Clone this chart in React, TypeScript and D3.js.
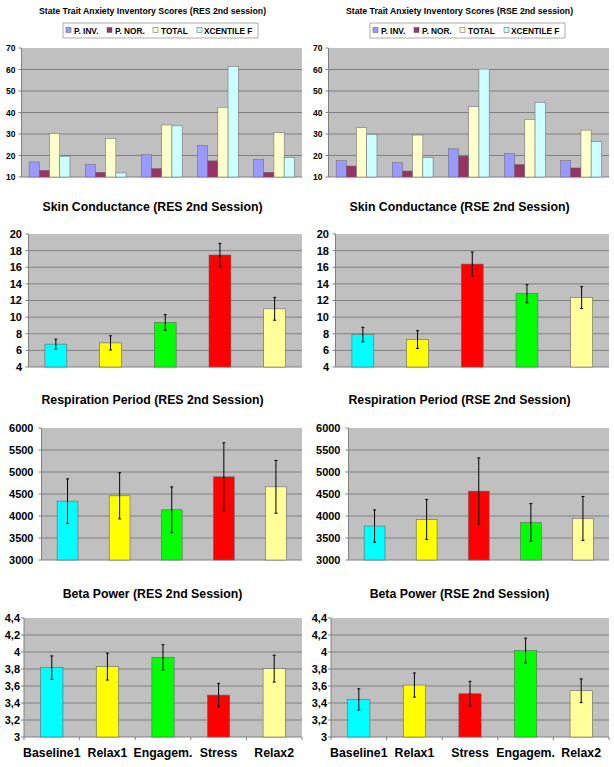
import React from "react";
import * as d3 from "d3";

// ---------- DATA ----------
const anxietySeries = ["P. INV.", "P. NOR.", "TOTAL", "XCENTILE F"];
const anxietyGroups = ["1", "2", "3", "4", "5"];
const anxRES_pInv = [17.0, 15.8, 20.4, 24.7, 18.2];
const anxRES_pNor = [13.1, 12.2, 13.9, 17.5, 12.2];
const anxRES_total = [30.3, 27.9, 34.2, 42.4, 30.6];
const anxRES_xcent = [19.7, 11.9, 33.8, 61.4, 19.0];
const anxRSE_pInv = [17.6, 16.7, 23.1, 20.9, 17.6];
const anxRSE_pNor = [15.1, 12.8, 19.7, 15.8, 14.2];
const anxRSE_total = [32.9, 29.5, 42.7, 36.8, 31.8];
const anxRSE_xcent = [29.8, 19.0, 60.2, 44.7, 26.4];
const anxTicks = [10, 20, 30, 40, 50, 60, 70];

const categoriesRES = ["Baseline1", "Relax1", "Engagem.", "Stress", "Relax2"];
const categoriesRSE = ["Baseline1", "Relax1", "Stress", "Engagem.", "Relax2"];

const skinRES = [6.75, 6.9, 9.36, 17.47, 11.0];
const skinRESErr = [0.6, 0.85, 0.95, 1.4, 1.37];
const skinRSE = [7.9, 7.3, 16.38, 12.83, 12.35];
const skinRSEErr = [0.87, 1.07, 1.45, 1.1, 1.32];
const skinTicks = [4, 6, 8, 10, 12, 14, 16, 18, 20];

const respRES = [4338, 4459, 4141, 4890, 4663];
const respRESErr = [507, 525, 520, 775, 600];
const respRSE = [3771, 3922, 4565, 3854, 3945];
const respRSEErr = [367, 454, 756, 427, 499];
const respTicks = [3000, 3500, 4000, 4500, 5000, 5500, 6000];

const betaRES = [3.816, 3.828, 3.938, 3.493, 3.804];
const betaRESErr = [0.138, 0.158, 0.148, 0.138, 0.158];
const betaRSE = [3.442, 3.611, 3.509, 4.017, 3.544];
const betaRSEErr = [0.125, 0.142, 0.146, 0.146, 0.14];
const betaTicks = [3, 3.2, 3.4, 3.6, 3.8, 4, 4.2, 4.4];

// ---------- STYLE ----------
const FONT = "'Liberation Sans', Arial, sans-serif";
const PLOT_BG = "#C0C0C0";
const GRID = "#808080";
const seriesColors = ["#9999FF", "#993366", "#FFFFCC", "#CCFFFF"];
const condColor: Record<string, string> = {
  "Baseline1": "#00FFFF",
  "Relax1": "#FFFF00",
  "Engagem.": "#00FF00",
  "Stress": "#FF0000",
  "Relax2": "#FFFF99",
};

type Rect = { x0: number; x1: number; y0: number; y1: number };

function YAxis({ plot, y, ticks, fmt, labelX, size }: { plot: Rect; y: d3.ScaleLinear<number, number>; ticks: number[]; fmt: (v: number) => string; labelX: number; size: number }) {
  return (
    <g>
      {ticks.map((t, i) => (
        <g key={i}>
          {t !== ticks[0] && t !== ticks[ticks.length - 1] && (
            <line x1={plot.x0} x2={plot.x1} y1={y(t)} y2={y(t)} stroke={GRID} strokeWidth={1} />
          )}
          <line x1={plot.x0 - 3} x2={plot.x0} y1={y(t)} y2={y(t)} stroke={GRID} strokeWidth={1} />
          <text x={labelX} y={y(t)} dy="0.36em" textAnchor="end" fontSize={size} fontWeight="bold" fontFamily={FONT} fill="#000">
            {fmt(t)}
          </text>
        </g>
      ))}
      <line x1={plot.x0} x2={plot.x0} y1={plot.y0} y2={plot.y1} stroke={GRID} strokeWidth={1} />
      <line x1={plot.x0} x2={plot.x1} y1={plot.y1} y2={plot.y1} stroke={GRID} strokeWidth={1} />
    </g>
  );
}

function AnxietyPanel({ ox, title, data }: { ox: number; title: string; data: number[][] }) {
  const plot: Rect = { x0: ox + 21.5, x1: ox + 302, y0: 48, y1: 177 };
  const y = d3.scaleLinear().domain([10, 70]).range([plot.y1, plot.y0]);
  const x = d3.scaleBand<string>().domain(anxietyGroups).range([plot.x0, plot.x1]);
  const bw = x.bandwidth() / 5.5;
  const legendItems = [
    { sq: 66, tx: 74 },
    { sq: 107, tx: 115 },
    { sq: 153, tx: 161 },
    { sq: 197, tx: 204 },
  ];
  return (
    <g>
      <text x={ox + 152.5} y={14} textAnchor="middle" fontSize={8.7} fontWeight="bold" fontFamily={FONT}>{title}</text>
      <rect x={ox + 63} y={23} width={195} height={15} fill="#fff" stroke="#999" strokeWidth={0.8} />
      {anxietySeries.map((s, i) => (
        <g key={s}>
          <rect x={ox + legendItems[i].sq} y={27.5} width={5} height={5} fill={seriesColors[i]} stroke="#555" strokeWidth={0.5} />
          <text x={ox + legendItems[i].tx} y={33.5} fontSize={8.3} fontWeight="bold" fontFamily={FONT}>{s}</text>
        </g>
      ))}
      <rect x={plot.x0} y={plot.y0} width={plot.x1 - plot.x0} height={plot.y1 - plot.y0} fill={PLOT_BG} />
      <YAxis plot={plot} y={y} ticks={anxTicks} fmt={(v) => String(v)} labelX={ox + 15.5} size={8.5} />
      {anxietyGroups.map((g, gi) => (
        <g key={g}>
          {data.map((series, si) => {
            const bx = (x(g) as number) + 0.75 * bw + si * bw;
            return (
              <rect key={si} x={bx} y={y(series[gi])} width={bw} height={plot.y1 - y(series[gi])} fill={seriesColors[si]} stroke="#666" strokeWidth={0.5} />
            );
          })}
        </g>
      ))}
    </g>
  );
}

function BarPanel({ ox, title, titleY, plot0, domain, ticks, fmt, labelX, categories, values, errors, showX }: {
  ox: number; title: string; titleY: number; plot0: Rect; domain: [number, number]; ticks: number[]; fmt: (v: number) => string; labelX: number; categories: string[]; values: number[]; errors: number[]; showX?: boolean;
}) {
  const plot: Rect = { x0: ox + plot0.x0, x1: ox + plot0.x1, y0: plot0.y0, y1: plot0.y1 };
  const y = d3.scaleLinear().domain(domain).range([plot.y1, plot.y0]);
  const x = d3.scaleBand<string>().domain(categories).range([plot.x0, plot.x1]);
  const bw = x.bandwidth() * 0.4;
  return (
    <g>
      <text x={ox + 152.5} y={titleY} textAnchor="middle" fontSize={12.3} fontWeight="bold" fontFamily={FONT}>{title}</text>
      <rect x={plot.x0} y={plot.y0} width={plot.x1 - plot.x0} height={plot.y1 - plot.y0} fill={PLOT_BG} />
      <YAxis plot={plot} y={y} ticks={ticks} fmt={fmt} labelX={ox + labelX} size={11} />
      {categories.map((c, i) => {
        const cx = (x(c) as number) + x.bandwidth() / 2;
        const v = values[i];
        const e = errors[i];
        return (
          <g key={c}>
            <rect x={cx - bw / 2} y={y(v)} width={bw} height={plot.y1 - y(v)} fill={condColor[c]} stroke="#666" strokeWidth={0.6} />
            <line x1={cx} x2={cx} y1={y(v + e)} y2={y(v - e)} stroke="#000" strokeWidth={1} />
            <line x1={cx - 1.5} x2={cx + 1.5} y1={y(v + e)} y2={y(v + e)} stroke="#000" strokeWidth={1} />
            <line x1={cx - 1.5} x2={cx + 1.5} y1={y(v - e)} y2={y(v - e)} stroke="#000" strokeWidth={1} />
          </g>
        );
      })}
      {showX && (
        <g>
          {categories.map((c, i) => (
            <line key={"t" + i} x1={x(c) as number} x2={x(c) as number} y1={plot.y1} y2={plot.y1 + 3} stroke={GRID} />
          ))}
          <line x1={plot.x1} x2={plot.x1} y1={plot.y1} y2={plot.y1 + 3} stroke={GRID} />
          {categories.map((c) => (
            <text key={"l" + c} x={(x(c) as number) + x.bandwidth() / 2} y={757} textAnchor="middle" fontSize={12.3} fontWeight="bold" fontFamily={FONT}>{c}</text>
          ))}
        </g>
      )}
    </g>
  );
}

const commaFmt = (v: number) => String(+v.toFixed(1)).replace(".", ",");

export default function App() {
  const panels = [
    { ox: 0, sess: "RES", cats: categoriesRES, skin: skinRES, skinE: skinRESErr, resp: respRES, respE: respRESErr, beta: betaRES, betaE: betaRESErr, anx: [anxRES_pInv, anxRES_pNor, anxRES_total, anxRES_xcent] },
    { ox: 307, sess: "RSE", cats: categoriesRSE, skin: skinRSE, skinE: skinRSEErr, resp: respRSE, respE: respRSEErr, beta: betaRSE, betaE: betaRSEErr, anx: [anxRSE_pInv, anxRSE_pNor, anxRSE_total, anxRSE_xcent] },
  ];
  return (
    <svg width={614} height={767} style={{ position: "absolute", left: 0, top: 0, background: "#fff" }}>
      <rect x={0} y={0} width={614} height={767} fill="#fff" />
      {panels.map((p) => (
        <g key={p.sess}>
          <AnxietyPanel ox={p.ox} title={`State Trait Anxiety Inventory Scores (${p.sess} 2nd session)`} data={p.anx} />
          <BarPanel ox={p.ox} title={`Skin Conductance (${p.sess} 2nd Session)`} titleY={211}
            plot0={{ x0: 28.5, x1: 302, y0: 234, y1: 367 }} domain={[4, 20]} ticks={skinTicks} fmt={(v) => String(v)} labelX={22}
            categories={p.cats} values={p.skin} errors={p.skinE} />
          <BarPanel ox={p.ox} title={`Respiration Period (${p.sess} 2nd Session)`} titleY={404}
            plot0={{ x0: 41.5, x1: 302, y0: 428, y1: 560 }} domain={[3000, 6000]} ticks={respTicks} fmt={(v) => String(v)} labelX={33.5}
            categories={p.cats} values={p.resp} errors={p.respE} />
          <BarPanel ox={p.ox} title={`Beta Power (${p.sess} 2nd Session)`} titleY={598}
            plot0={{ x0: 24, x1: 302, y0: 618, y1: 737 }} domain={[3, 4.4]} ticks={betaTicks} fmt={commaFmt} labelX={20}
            categories={p.cats} values={p.beta} errors={p.betaE} showX />
        </g>
      ))}
    </svg>
  );
}
